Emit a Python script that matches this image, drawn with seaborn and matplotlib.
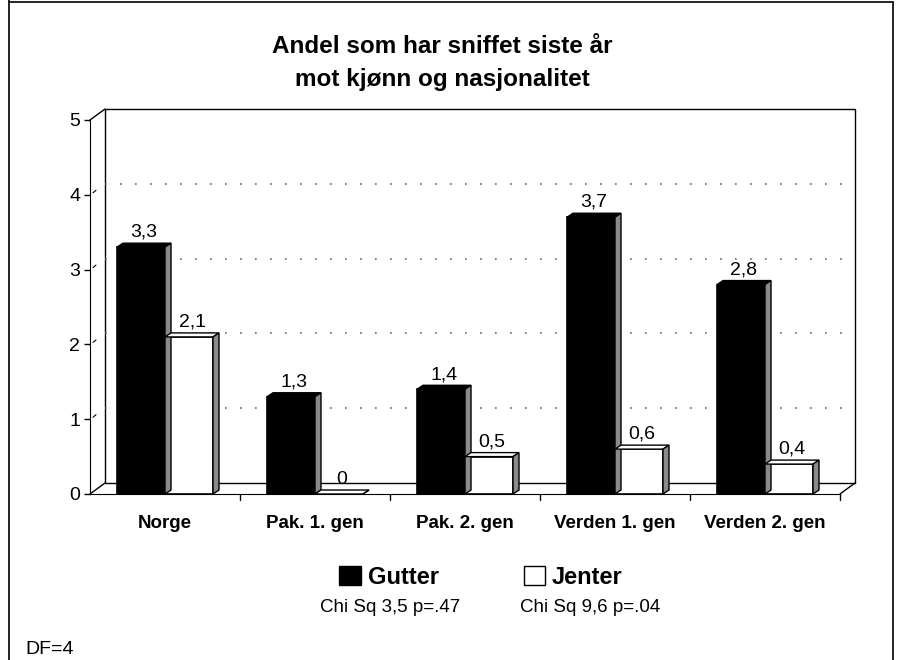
import pandas as pd
import matplotlib.pyplot as plt
import matplotlib.transforms as mtransforms
from matplotlib.patches import Polygon, Patch
from matplotlib.lines import Line2D
import seaborn as sns

# Data
categories = ["Norge", "Pak. 1. gen", "Pak. 2. gen", "Verden 1. gen", "Verden 2. gen"]
gutter = [3.3, 1.3, 1.4, 3.7, 2.8]
jenter = [2.1, 0, 0.5, 0.6, 0.4]
series = ["Gutter", "Jenter"]
chi_text = ["Chi Sq 3,5 p=.47", "Chi Sq 9,6 p=.04"]

df = pd.DataFrame({
    "kategori": categories * 2,
    "kjonn": [series[0]] * len(categories) + [series[1]] * len(categories),
    "andel": gutter + jenter,
})

sns.set_style("white")
plt.rcParams["font.family"] = ["Liberation Sans", "DejaVu Sans"]
plt.rcParams["text.color"] = "black"
plt.rcParams["xtick.color"] = "black"
plt.rcParams["ytick.color"] = "black"

fig = plt.figure(figsize=(8.99, 6.6), dpi=100)
W, H = 899, 660
ax_left, ax_right, ax_bottom, ax_top = 90, 840, 494, 120
ax = fig.add_axes([ax_left / W, 1 - ax_bottom / H, (ax_right - ax_left) / W, (ax_bottom - ax_top) / H])

sns.barplot(data=df, x="kategori", y="andel", hue="kjonn", palette=["black", "white"],
            width=0.64, edgecolor="black", linewidth=1.2, legend=False, ax=ax, zorder=3)

ax.set_xlim(-0.5, len(categories) - 0.5)
ax.set_ylim(0, 5)
ax.set_xlabel("")
ax.set_ylabel("")

# pixel -> data conversion
px_x = (len(categories)) / (ax_right - ax_left)
px_y = 5 / (ax_bottom - ax_top)

# back wall offset (3D look)
back = mtransforms.offset_copy(ax.transData, fig=fig, x=15, y=11, units="dots")
x0, x1 = -0.5, len(categories) - 0.5
ax.plot([x0, x0, x1, x1], [0, 5, 5, 0], color="black", lw=1, transform=back, clip_on=False, zorder=1)
ax.plot([x0, x1], [0, 0], color="black", lw=1, transform=back, clip_on=False, zorder=1)
for yv in range(1, 5):
    ax.plot([x0, x1], [yv, yv], color="dimgray", lw=1.2, linestyle=(0, (1, 8)),
            transform=back, clip_on=False, zorder=1)
# diagonal joins front -> back
for (xv, yv) in [(x0, 0), (x0, 5), (x1, 0)]:
    ax.plot([xv, xv + 15 * px_x], [yv, yv + 11 * px_y], color="black", lw=1, clip_on=False, zorder=2)
for yv in range(1, 5):
    ax.plot([x0 + 3 * px_x, x0 + 6 * px_x], [yv + 2 * px_y, yv + 4.5 * px_y], color="black",
            lw=0.8, clip_on=False, zorder=2)

# 3D faces on bars
dx, dy = 6 * px_x, 4 * px_y
for p in ax.patches:
    x, w, h = p.get_x(), p.get_width(), p.get_height()
    fc = p.get_facecolor()
    top = Polygon([(x, h), (x + w, h), (x + w + dx, h + dy), (x + dx, h + dy)],
                  closed=True, facecolor=fc, edgecolor="black", lw=1, zorder=3, clip_on=False)
    side = Polygon([(x + w, 0), (x + w + dx, dy), (x + w + dx, h + dy), (x + w, h)],
                   closed=True, facecolor="#8a8a8a", edgecolor="black", lw=1, zorder=3, clip_on=False)
    ax.add_patch(top)
    ax.add_patch(side)
    ax.text(x + w / 2 + dx / 2, h + dy + 0.03, f"{h:g}".replace(".", ","),
            ha="center", va="bottom", fontsize=14, zorder=4)

sns.despine(ax=ax, top=True, right=True)
ax.spines["left"].set_color("black")
ax.spines["bottom"].set_color("black")
ax.set_yticks(range(0, 6))
ax.tick_params(axis="y", direction="out", length=4, width=1, labelsize=14, pad=3, left=True)
ax.tick_params(axis="x", length=0, labelsize=13.5, pad=15)
for lbl in ax.get_xticklabels():
    lbl.set_fontweight("bold")
for xt in [i + 0.5 for i in range(len(categories))]:
    ax.plot([xt, xt], [0, -6 * px_y], color="black", lw=1, clip_on=False)

# title
fig.text(0.492, 1 - 63 / H, "Andel som har sniffet siste år\nmot kjønn og nasjonalitet",
         ha="center", va="center", fontsize=17.5, fontweight="bold", linespacing=1.6)

# legend
handles = [Patch(facecolor="black", edgecolor="black"), Patch(facecolor="white", edgecolor="black")]
fig.legend(handles, series, loc="center", bbox_to_anchor=(0.535, 1 - 577 / H), ncol=2,
           frameon=False, prop={"weight": "bold", "size": 17}, handlelength=0.9, handleheight=0.9,
           handletextpad=0.3, columnspacing=3.6)
fig.text(390 / W, 1 - 608 / H, chi_text[0], ha="center", va="center", fontsize=13.5)
fig.text(590 / W, 1 - 608 / H, chi_text[1], ha="center", va="center", fontsize=13.5)
fig.text(25 / W, 1 - 650 / H, "DF=4", ha="left", va="center", fontsize=14)

# outer frame
for xs, ys in [([9, 9], [0, 660]), ([9, 893], [2, 2]), ([893, 893], [2, 660])]:
    fig.add_artist(Line2D([v / W for v in xs], [1 - v / H for v in ys], color="black", lw=1.2))

fig.savefig("out.png", dpi=100)
plt.close(fig)
